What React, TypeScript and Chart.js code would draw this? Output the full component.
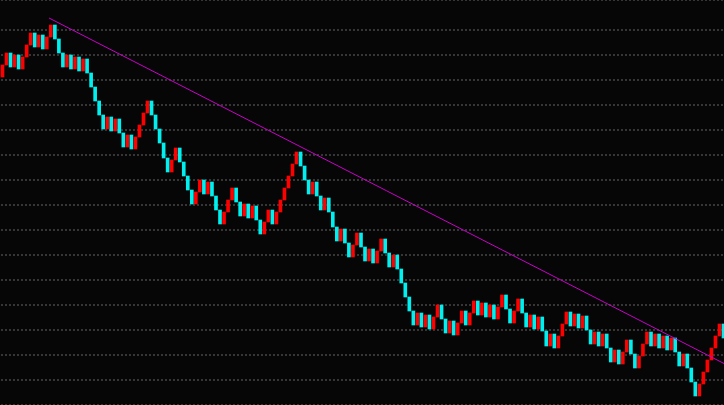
import React, { useEffect, useRef } from "react";
import { Chart, registerables } from "chart.js";

Chart.register(...registerables);

// Renko bricks: each brick opens at the previous close
const firstOpen = 328;
const brickCloses = [
  340, 352, 338, 350, 336, 348, 360, 372, 358, 370,
  356, 368, 380, 366, 352, 338, 350, 336, 348, 334,
  346, 332, 318, 304, 290, 276, 288, 274, 286, 272,
  258, 270, 256, 268, 280, 292, 304, 290, 276, 262,
  247, 233, 245, 257, 243, 229, 215, 201, 213, 225,
  211, 223, 209, 195, 181, 193, 205, 217, 203, 189,
  201, 187, 199, 185, 171, 183, 195, 181, 193, 205,
  217, 229, 241, 253, 239, 225, 211, 223, 209, 195,
  207, 193, 178, 164, 176, 162, 148, 160, 172, 158,
  144, 156, 142, 154, 166, 152, 138, 150, 136, 122,
  108, 94, 80, 92, 78, 90, 76, 88, 100, 86,
  72, 84, 70, 82, 94, 80, 92, 104, 90, 102,
  88, 100, 86, 98, 110, 96, 82, 94, 106, 92,
  78, 90, 76, 88, 74, 59, 71, 57, 69, 81,
  93, 79, 91, 77, 89, 75, 61, 73, 59, 71,
  57, 43, 55, 41, 53, 65, 51, 37, 49, 61,
  73, 59, 71, 57, 69, 55, 67, 53, 39, 51,
  37, 23, 9, 21, 33, 45, 57, 69, 81, 67,
];

// Trend line end points (brick index, price)
const trendX = [11.55, 179.12];
const trendY = [387, 41.5];

const X_MIN = -0.62;
const X_MAX = 179.12;

export default function App() {
  const ref = useRef<HTMLCanvasElement | null>(null);

  useEffect(() => {
    if (!ref.current) return;
    const bricks = brickCloses.map((c, i) => {
      const o = i === 0 ? firstOpen : brickCloses[i - 1];
      return { x: i, y: [o, c] };
    });
    const colors = brickCloses.map((c, i) => {
      const o = i === 0 ? firstOpen : brickCloses[i - 1];
      return c > o ? "#ff0000" : "#00f0f0";
    });
    const chart = new Chart(ref.current, {
      type: "bar",
      data: {
        datasets: [
          {
            type: "line",
            data: trendX.map((x, i) => ({ x, y: trendY[i] })),
            borderColor: "#cc00cc",
            borderWidth: 1,
            pointRadius: 0,
            fill: false,
            order: 0,
          } as any,
          {
            type: "bar",
            data: bricks as any,
            backgroundColor: colors,
            borderWidth: 0,
            barThickness: 3,
            order: 1,
          } as any,
        ],
      },
      options: {
        animation: false,
        responsive: false,
        devicePixelRatio: 1,
        layout: { padding: 0 },
        plugins: {
          legend: { display: false },
          tooltip: { enabled: false },
          title: { display: false },
        },
        scales: {
          x: {
            type: "linear",
            display: false,
            min: X_MIN,
            max: X_MAX,
            offset: false,
          },
          y: {
            type: "linear",
            min: 0,
            max: 405,
            ticks: { display: false, stepSize: 25 },
            grid: { drawTicks: false, color: "#363636", lineWidth: 2 },
            border: { display: false, dash: [2, 2], dashOffset: 3 },
          },
        },
      },
    });
    return () => chart.destroy();
  }, []);

  return (
    <div
      style={{
        position: "fixed",
        left: 0,
        top: 0,
        width: 724,
        height: 405,
        background: "#060606",
      }}
    >
      <canvas ref={ref} width={724} height={405} style={{ display: "block" }} />
    </div>
  );
}
